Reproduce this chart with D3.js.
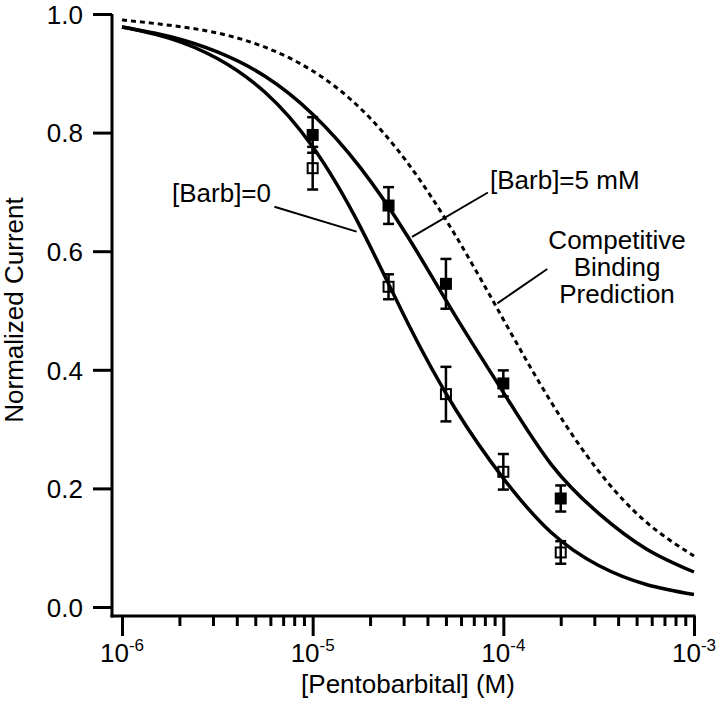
<!DOCTYPE html>
<html><head><meta charset="utf-8">
<script src="https://cdn.jsdelivr.net/npm/d3@7"></script>
<style>
body{margin:0;background:#fff}
text{font-family:"Liberation Sans",Arial,Helvetica,sans-serif;fill:#000}
</style>
</head><body><svg id="c" width="720" height="708"></svg>
<script>
// ---- data ----
const concentrations = [1e-5, 2.5e-5, 5e-5, 1e-4, 2e-4];
const controlMean = [0.740, 0.540, 0.359, 0.228, 0.092];
const controlErr  = [0.036, 0.021, 0.046, 0.030, 0.019];
const barbMean = [0.796, 0.677, 0.545, 0.377, 0.183];
const barbErr  = [0.030, 0.031, 0.042, 0.022, 0.022];

const fitConc = [1e-6, 1.778e-6, 3.162e-6, 5.623e-6, 1e-5, 1.778e-5, 3.162e-5, 5.623e-5, 1e-4, 1.778e-4, 3.162e-4, 5.623e-4, 1e-3];
const fitControl    = [0.978, 0.959, 0.925, 0.868, 0.776, 0.641, 0.478, 0.333, 0.217, 0.126, 0.070, 0.038, 0.021];
const fitBarb       = [0.978, 0.962, 0.936, 0.895, 0.831, 0.741, 0.624, 0.490, 0.362, 0.241, 0.158, 0.098, 0.059];
const fitPrediction = [0.990, 0.981, 0.968, 0.944, 0.904, 0.841, 0.748, 0.626, 0.485, 0.346, 0.229, 0.143, 0.086];

const yTicks = [0, 0.2, 0.4, 0.6, 0.8, 1.0];
const xMajorTicks = [1e-6, 1e-5, 1e-4, 1e-3];
const xTickExponents = ["-6", "-5", "-4", "-3"];
const xMinorMultipliers = [2, 3, 4, 5, 6, 7, 8, 9];

const labelControl = "[Barb]=0";
const labelBarb = "[Barb]=5 mM";
const labelPrediction = ["Competitive", "Binding", "Prediction"];
const xTitle = "[Pentobarbital] (M)";
const yTitle = "Normalized Current";

// ---- layout ----
const svg = d3.select("#c");
const x = d3.scaleLog().domain([1e-6, 1e-3]).range([122, 694]);
const y = d3.scaleLinear().domain([0, 1]).range([607, 14]);
const axisY = 616, axisX = 112;
const FS = 26;

// axis lines
svg.append("line").attr("x1", axisX).attr("x2", axisX).attr("y1", y(1)).attr("y2", axisY + 1.5)
  .attr("stroke", "#000").attr("stroke-width", 3);
svg.append("line").attr("x1", axisX - 1.5).attr("x2", x(1e-3) + 1.5).attr("y1", axisY).attr("y2", axisY)
  .attr("stroke", "#000").attr("stroke-width", 3);

// y axis
const gy = svg.append("g").attr("transform", `translate(${axisX},0)`)
  .call(d3.axisLeft(y).tickValues(yTicks).tickSize(19).tickPadding(10).tickFormat(d3.format(".1f")));
gy.select(".domain").remove();
gy.selectAll(".tick line").attr("stroke-width", 3);
gy.selectAll(".tick text").attr("font-size", FS).attr("font-family", null).attr("dy", "0.36em");

// x axis major + minor
const minorTicks = [];
xMajorTicks.slice(0, -1).forEach(d => xMinorMultipliers.forEach(m => minorTicks.push(d * m)));
const gxMinor = svg.append("g").attr("transform", `translate(0,${axisY})`)
  .call(d3.axisBottom(x).tickValues(minorTicks).tickSize(10).tickFormat(""));
gxMinor.select(".domain").remove();
gxMinor.selectAll(".tick line").attr("stroke-width", 3);
const gxMajor = svg.append("g").attr("transform", `translate(0,${axisY})`)
  .call(d3.axisBottom(x).tickValues(xMajorTicks).tickSize(20).tickFormat(""));
gxMajor.select(".domain").remove();
gxMajor.selectAll(".tick line").attr("stroke-width", 3);

// x tick labels with superscripts (whole label centred on the tick)
xMajorTicks.forEach((d, i) => {
  const t = svg.append("text").attr("y", 662).attr("font-size", FS);
  t.append("tspan").text("10");
  t.append("tspan").attr("font-size", 17).attr("dy", -11).text(xTickExponents[i]);
  const w = t.node().getComputedTextLength();
  t.attr("x", Math.min(x(d) - w / 2, 718 - w));
});

// titles
svg.append("text").attr("x", x(Math.sqrt(1e-6 * 1e-3))).attr("y", 693)
  .attr("text-anchor", "middle").attr("font-size", FS).text(xTitle);
svg.append("text").attr("transform", `translate(23,310) rotate(-90)`)
  .attr("text-anchor", "middle").attr("font-size", FS).text(yTitle);

// curves
const line = d3.line().x(d => x(d[0])).y(d => y(d[1])).curve(d3.curveNatural);
svg.append("path").datum(fitConc.map((c, i) => [c, fitPrediction[i]])).attr("d", line)
  .attr("fill", "none").attr("stroke", "#000").attr("stroke-width", 3).attr("stroke-dasharray", "5,4");
svg.append("path").datum(fitConc.map((c, i) => [c, fitControl[i]])).attr("d", line)
  .attr("fill", "none").attr("stroke", "#000").attr("stroke-width", 3.5);
svg.append("path").datum(fitConc.map((c, i) => [c, fitBarb[i]])).attr("d", line)
  .attr("fill", "none").attr("stroke", "#000").attr("stroke-width", 3.5);

// error bars + markers
function drawSeries(means, errs, filled) {
  const g = svg.append("g");
  concentrations.forEach((c, i) => {
    const cx = x(c), y0 = y(means[i] - errs[i]), y1 = y(means[i] + errs[i]);
    g.append("line").attr("x1", cx).attr("x2", cx).attr("y1", y0).attr("y2", y1).attr("stroke", "#000").attr("stroke-width", 2.5);
    [y0, y1].forEach(yy => g.append("line").attr("x1", cx - 5.5).attr("x2", cx + 5.5).attr("y1", yy).attr("y2", yy)
      .attr("stroke", "#000").attr("stroke-width", 2.5));
    const s = 12;
    if (filled) {
      g.append("rect").attr("x", cx - s / 2).attr("y", y(means[i]) - s / 2).attr("width", s).attr("height", s).attr("fill", "#000");
    } else {
      g.append("rect").attr("x", cx - s / 2 + 1).attr("y", y(means[i]) - s / 2 + 1).attr("width", s - 2).attr("height", s - 2)
        .attr("fill", "none").attr("stroke", "#000").attr("stroke-width", 2);
    }
  });
}
drawSeries(controlMean, controlErr, false);
drawSeries(barbMean, barbErr, true);

// annotations (leader lines anchored in data space)
function leader(c0, v0, c1, v1) {
  svg.append("line").attr("x1", x(c0)).attr("y1", y(v0)).attr("x2", x(c1)).attr("y2", y(v1))
    .attr("stroke", "#000").attr("stroke-width", 2);
}
leader(6.3e-6, 0.675, 1.7e-5, 0.633);
svg.append("text").attr("x", 172).attr("y", 202).attr("font-size", FS).text(labelControl);

leader(3.32e-5, 0.624, 8.3e-5, 0.699);
svg.append("text").attr("x", 490).attr("y", 189).attr("font-size", FS).text(labelBarb);

leader(9.3e-5, 0.512, 1.7e-4, 0.570);
const tp = svg.append("text").attr("text-anchor", "middle").attr("font-size", FS);
labelPrediction.forEach((s, i) => tp.append("tspan").attr("x", 617).attr("y", 249 + i * 27).text(s));
</script>
</body></html>
